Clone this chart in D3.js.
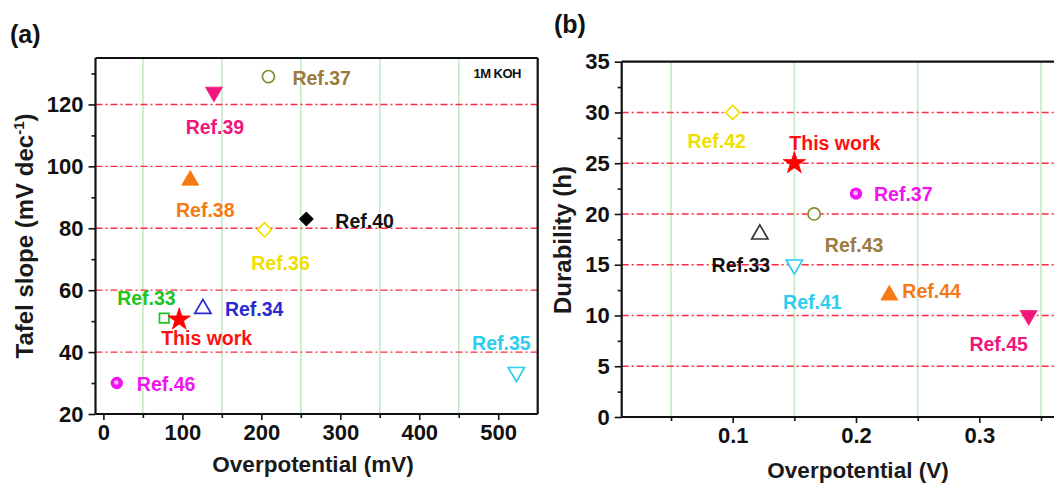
<!DOCTYPE html>
<html>
<head>
<meta charset="utf-8">
<script src="https://cdn.jsdelivr.net/npm/d3@7/dist/d3.min.js"></script>
<style>
  html, body { margin: 0; padding: 0; background: #fff; }
  svg text { font-family: "Liberation Sans", Arial, sans-serif; font-weight: bold; }
</style>
</head>
<body>
<svg id="chart" width="1054" height="483"></svg>
<script>
// ---- Panel (a): Tafel slope vs overpotential ----
const refsA = ["Ref.37", "Ref.39", "Ref.38", "Ref.40", "Ref.36", "Ref.33", "This work", "Ref.34", "Ref.46", "Ref.35"];
const overpotentialA = [209, 140, 110, 257, 204, 77, 96, 126, 17, 523];   // mV
const tafelSlopeA = [129, 124, 95.5, 83, 79.5, 51, 50.5, 54, 30, 33.5];    // mV dec^-1
const xTicksA = [0, 100, 200, 300, 400, 500];
const yTicksA = [20, 40, 60, 80, 100, 120];

// ---- Panel (b): durability vs overpotential ----
const refsB = ["Ref.42", "This work", "Ref.37", "Ref.43", "Ref.33", "Ref.41", "Ref.44", "Ref.45"];
const overpotentialB = [0.10, 0.15, 0.20, 0.166, 0.122, 0.15, 0.227, 0.34]; // V
const durabilityB = [30, 25, 22, 20, 18, 15, 12, 10];                      // h
const xTicksB = [0.1, 0.2, 0.3];
const yTicksB = [0, 5, 10, 15, 20, 25, 30, 35];

// marker style and label placement (dx, dy from the marker, text anchor)
const styleA = {
  "Ref.37":    { shape: "circle",  color: "#8c8a2e", text: "#9c7b3c", dx: 24,  dy: 8,  anchor: "start" },
  "Ref.39":    { shape: "tridown", color: "#f0167c", text: "#f0167c", dx: 1,   dy: 42, anchor: "middle" },
  "Ref.38":    { shape: "triup",   color: "#f57a14", text: "#f57a14", dx: 15,  dy: 37, anchor: "middle" },
  "Ref.40":    { shape: "diamond", color: "#000000", text: "#111111", dx: 29,  dy: 9,  anchor: "start" },
  "Ref.36":    { shape: "odiamond",color: "#f2e000", text: "#efe000", dx: 16,  dy: 40, anchor: "middle" },
  "Ref.33":    { shape: "square",  color: "#22c422", text: "#22c422", dx: -47, dy: -13,anchor: "start" },
  "This work": { shape: "star",    color: "#ff0000", text: "#ff1010", dx: -18, dy: 25, anchor: "start" },
  "Ref.34":    { shape: "otriup",  color: "#2a2ad0", text: "#2a2ad0", dx: 22,  dy: 7,  anchor: "start" },
  "Ref.46":    { shape: "sphere",  color: "#f014f0", text: "#f014f0", dx: 20,  dy: 8,  anchor: "start" },
  "Ref.35":    { shape: "otridown",color: "#2bcdf0", text: "#2bcdf0", dx: -15, dy: -22,anchor: "middle" }
};
const styleB = {
  "Ref.42":    { shape: "odiamond",color: "#f2e000", text: "#efe000", dx: -16, dy: 36, anchor: "middle" },
  "This work": { shape: "star",    color: "#ff0000", text: "#ff1010", dx: -5,  dy: -13,anchor: "start" },
  "Ref.37":    { shape: "sphere",  color: "#f014f0", text: "#f014f0", dx: 18,  dy: 7,  anchor: "start" },
  "Ref.43":    { shape: "circle",  color: "#8c8a2e", text: "#9c7b3c", dx: 40,  dy: 38, anchor: "middle" },
  "Ref.33":    { shape: "otriup",  color: "#333333", text: "#111111", dx: -19, dy: 38, anchor: "middle" },
  "Ref.41":    { shape: "otridown",color: "#2bcdf0", text: "#2bcdf0", dx: 18,  dy: 44, anchor: "middle" },
  "Ref.44":    { shape: "triup",   color: "#f57a14", text: "#f57a14", dx: 13,  dy: 3,  anchor: "start" },
  "Ref.45":    { shape: "tridown", color: "#f0167c", text: "#f0167c", dx: -30, dy: 36, anchor: "middle" }
};

const svg = d3.select("#chart");

const gridRed = { stroke: "#ff2a40", width: 1.4, dash: "7,3,2,3" };
const gridGreen = { stroke: "#c4eac4", width: 1.6 };
const LABEL_SIZE = 19.5, TICK_SIZE = 22, TITLE_SIZE = 22.5, YTITLE_SIZE = 24;

function drawMarker(g, shape, color, x, y) {
  const sym = d3.symbol();
  const add = (type, size, rot, filled) =>
    g.append("path")
      .attr("d", sym.type(type).size(size)())
      .attr("transform", `translate(${x},${y}) rotate(${rot})`)
      .attr("fill", filled ? color : "#fff")
      .attr("stroke", color)
      .attr("stroke-width", filled ? 0.8 : 1.7);
  switch (shape) {
    case "circle":   add(d3.symbolCircle, 115, 0, false); break;
    case "square":   add(d3.symbolSquare, 90, 0, false); break;
    case "triup":    add(d3.symbolTriangle, 125, 0, true); break;
    case "tridown":  add(d3.symbolTriangle, 125, 180, true); break;
    case "otriup":   add(d3.symbolTriangle, 115, 0, false); break;
    case "otridown": add(d3.symbolTriangle, 115, 180, false); break;
    case "diamond":  add(d3.symbolSquare, 100, 45, true); break;
    case "odiamond": add(d3.symbolSquare, 100, 45, false); break;
    case "star":     add(d3.symbolStar, 155, 0, true); break;
    case "sphere":
      g.append("circle").attr("cx", x).attr("cy", y).attr("r", 6.2).attr("fill", color);
      g.append("circle").attr("cx", x - 0.5).attr("cy", y - 0.5).attr("r", 2.3).attr("fill", "#ffb8ff");
      break;
  }
}

function panel(opts) {
  const { x, y, xMajor, xMinor, yMajor, yMinor, yGrid, xFmt, boxRight } = opts;
  const g = svg.append("g");
  const [x0, x1] = x.range();
  const [y0, y1] = y.range();
  const right = Math.min(x1, 1054);

  // vertical green grid lines at the minor x ticks
  g.selectAll(null).data(xMinor.filter(v => x(v) < right)).join("line")
    .attr("x1", d => x(d)).attr("x2", d => x(d))
    .attr("y1", y0).attr("y2", y1)
    .attr("stroke", gridGreen.stroke).attr("stroke-width", gridGreen.width);

  // horizontal red dash-dot grid lines
  g.selectAll(null).data(yGrid).join("line")
    .attr("x1", x0).attr("x2", right)
    .attr("y1", d => y(d)).attr("y2", d => y(d))
    .attr("stroke", gridRed.stroke).attr("stroke-width", gridRed.width)
    .attr("stroke-dasharray", gridRed.dash);

  // axes with outward ticks
  const xAxis = g.append("g").attr("transform", `translate(0,${y0})`)
    .call(d3.axisBottom(x).tickValues(xMajor).tickSize(6).tickPadding(4).tickFormat(xFmt));
  const xMinorAxis = g.append("g").attr("transform", `translate(0,${y0})`)
    .call(d3.axisBottom(x).tickValues(xMinor).tickSize(4).tickFormat(""));
  const yAxis = g.append("g").attr("transform", `translate(${x0},0)`)
    .call(d3.axisLeft(y).tickValues(yMajor).tickSize(7).tickPadding(5));
  const yMinorAxis = g.append("g").attr("transform", `translate(${x0},0)`)
    .call(d3.axisLeft(y).tickValues(yMinor).tickSize(4).tickFormat(""));
  [xAxis, xMinorAxis, yAxis, yMinorAxis].forEach(a => {
    a.select(".domain").remove();
    a.selectAll(".tick line").attr("stroke", "#111").attr("stroke-width", 1.6);
    a.selectAll("text").attr("font-size", TICK_SIZE).attr("fill", "#111")
      .style("font-family", "'Liberation Sans', Arial, sans-serif").style("font-weight", "bold");
  });

  // frame
  const frame = g.append("g").attr("fill", "none").attr("stroke", "#111").attr("stroke-width", 2.2);
  frame.append("line").attr("x1", x0).attr("x2", right).attr("y1", y0).attr("y2", y0);
  frame.append("line").attr("x1", x0).attr("x2", right).attr("y1", y1).attr("y2", y1);
  frame.append("line").attr("x1", x0).attr("x2", x0).attr("y1", y0).attr("y2", y1);
  if (boxRight) frame.append("line").attr("x1", x1).attr("x2", x1).attr("y1", y0).attr("y2", y1);
  return g;
}

function points(g, x, y, names, xs, ys, style) {
  names.forEach((n, i) => {
    const s = style[n];
    const px = x(xs[i]), py = y(ys[i]);
    drawMarker(g, s.shape, s.color, px, py);
    g.append("text").attr("x", px + s.dx).attr("y", py + s.dy)
      .attr("text-anchor", s.anchor).attr("font-size", LABEL_SIZE).attr("fill", s.text)
      .text(n);
  });
}

// ---------- (a) ----------
const xA = d3.scaleLinear().domain([-10, 550]).range([95.5, 537.7]);
const yA = d3.scaleLinear().domain([20, 135]).range([414, 58]);
const gA = panel({
  x: xA, y: yA,
  xMajor: xTicksA, xMinor: [50, 150, 250, 350, 450],
  yMajor: yTicksA, yMinor: [30, 50, 70, 90, 110, 130],
  yGrid: [40, 60, 80, 100, 120], xFmt: d3.format("d"), boxRight: true
});
points(gA, xA, yA, refsA, overpotentialA, tafelSlopeA, styleA);
gA.append("text").attr("x", 521).attr("y", 78).attr("text-anchor", "end")
  .attr("font-size", 13).attr("fill", "#111").attr("letter-spacing", -0.5).text("1M KOH");
gA.append("text").attr("x", 313).attr("y", 472).attr("text-anchor", "middle")
  .attr("font-size", TITLE_SIZE).attr("fill", "#1a1a1a").text("Overpotential (mV)");
const tA = gA.append("text").attr("transform", "translate(33,236) rotate(-90)")
  .attr("text-anchor", "middle").attr("font-size", YTITLE_SIZE).attr("fill", "#1a1a1a");
tA.append("tspan").text("Tafel slope (mV dec");
tA.append("tspan").attr("dy", -9).attr("font-size", 15).text("-1");
tA.append("tspan").attr("dy", 9).text(")");
svg.append("text").attr("x", 10).attr("y", 43).attr("font-size", 25).attr("fill", "#111").text("(a)");

// ---------- (b) ----------
const xB = d3.scaleLinear().domain([0.01, 0.38]).range([621.7, 1078]);
const yB = d3.scaleLinear().domain([0, 35]).range([417, 61.7]);
const gB = panel({
  x: xB, y: yB,
  xMajor: xTicksB, xMinor: [0.05, 0.15, 0.25, 0.35],
  yMajor: yTicksB, yMinor: [2.5, 7.5, 12.5, 17.5, 22.5, 27.5, 32.5],
  yGrid: [0, 5, 10, 15, 20, 25, 30], xFmt: d3.format(".1f"), boxRight: false
});
points(gB, xB, yB, refsB, overpotentialB, durabilityB, styleB);
gB.append("text").attr("x", 858).attr("y", 478).attr("text-anchor", "middle")
  .attr("font-size", TITLE_SIZE).attr("fill", "#1a1a1a").text("Overpotential (V)");
gB.append("text").attr("transform", "translate(571,240) rotate(-90)")
  .attr("text-anchor", "middle").attr("font-size", YTITLE_SIZE).attr("fill", "#1a1a1a").text("Durability (h)");
svg.append("text").attr("x", 554).attr("y", 33).attr("font-size", 25).attr("fill", "#111").text("(b)");
</script>
</body>
</html>
